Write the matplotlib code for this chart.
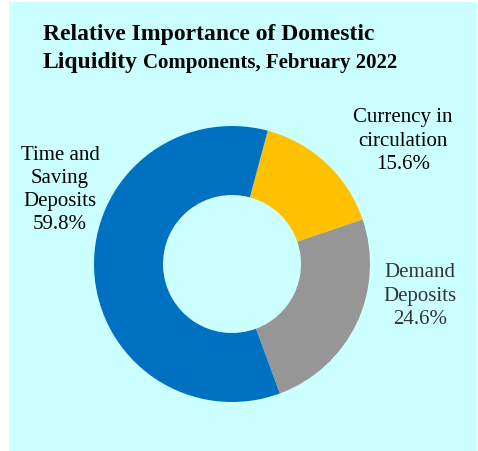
import matplotlib
matplotlib.use("Agg")
import matplotlib.pyplot as plt

# Components of domestic liquidity, February 2022 (percent shares)
components = ["Currency in\ncirculation", "Demand\nDeposits", "Time and\nSaving\nDeposits"]
shares = [15.6, 24.6, 59.8]
colors = ["#FFC000", "#969696", "#0070C0"]
label_colors = ["#000000", "#333333", "#000000"]
# label centres in pixels (x, y from top)
label_pos = [(403, 141), (420, 296), (60, 190)]

W, H = 478, 452
DPI = 100
SERIF = ["Liberation Serif", "DejaVu Serif"]

fig = plt.figure(figsize=(W / DPI, H / DPI), dpi=DPI, facecolor="white")


def fx(px):
    return px / W


def fy(py):
    return 1 - py / H


# light cyan panel
bg = fig.add_axes([fx(9), 0, fx(477) - fx(9), fy(3)], zorder=0)
bg.set_facecolor("#CCFFFF")
bg.set_xticks([])
bg.set_yticks([])
for s in bg.spines.values():
    s.set_visible(False)

# donut
cx, cy, R = 232, 265, 138
ax = fig.add_axes([fx(cx - R), fy(cy + R), 2 * R / W, 2 * R / H], zorder=2)
ax.set_facecolor("none")
ax.pie(shares, colors=colors, startangle=75, counterclock=False, radius=1.0,
       wedgeprops=dict(width=0.5, edgecolor="none"))
ax.set_xlim(-1, 1)
ax.set_ylim(-1, 1)
ax.set_aspect("equal")
ax.axis("off")

for name, val, col, (px, py) in zip(components, shares, label_colors, label_pos):
    fig.text(fx(px), fy(py), f"{name}\n{val:.1f}%", ha="center", va="center",
             fontsize=15, family=SERIF, color=col, linespacing=1.3, zorder=3)

# title
fig.text(fx(43), fy(40), "Relative Importance of Domestic", ha="left", va="baseline",
         fontsize=17, fontweight="bold", family=SERIF, color="black", zorder=3)
t1 = fig.text(fx(43), fy(68), "Liquidity", ha="left", va="baseline",
              fontsize=17, fontweight="bold", family=SERIF, color="black", zorder=3)
fig.canvas.draw()
bb = t1.get_window_extent(renderer=fig.canvas.get_renderer())
fig.text(bb.x1 / W + fx(5), fy(68), "Components, February 2022", ha="left", va="baseline",
         fontsize=15, fontweight="bold", family=SERIF, color="black", zorder=3)

fig.savefig("out.png", dpi=DPI, facecolor="white")
